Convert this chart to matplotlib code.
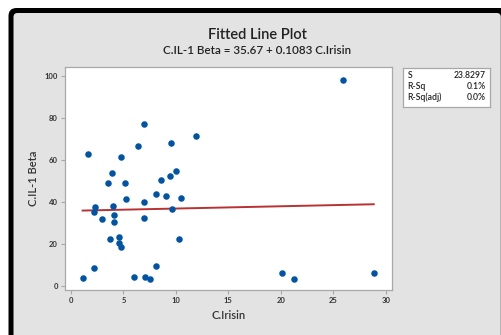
import matplotlib
matplotlib.use("Agg")
import matplotlib.pyplot as plt
from matplotlib.patches import FancyBboxPatch
import numpy as np

plt.rcParams['font.family'] = ['Lato', 'DejaVu Sans']

# observed values
irisin = [1.11, 1.65, 2.16, 2.16, 2.32, 3.0, 3.52, 3.69, 3.91, 4.0,
          4.1, 4.1, 4.58, 4.58, 4.8, 4.74, 5.15, 5.24, 5.98, 6.35,
          6.93, 6.93, 6.99, 7.08, 7.5, 8.07, 8.07, 8.6, 9.03, 9.44,
          9.5, 9.66, 9.98, 10.3, 10.46, 11.92, 25.96, 20.15, 21.23, 28.86]
il1_beta = [3.8, 62.6, 8.6, 34.9, 37.5, 31.8, 49.0, 22.2, 53.8, 38.1,
            33.8, 30.2, 23.3, 20.2, 18.6, 61.4, 48.8, 41.3, 4.3, 66.5,
            77.0, 32.2, 39.7, 4.1, 3.3, 43.7, 9.4, 50.2, 42.9, 52.2,
            68.1, 36.5, 54.6, 22.2, 41.9, 71.3, 98.1, 6.2, 3.3, 6.2]

intercept = 35.67
slope = 0.1083
stats_names = ['S', 'R-Sq', 'R-Sq(adj)']
stats_vals = ['23.8297', '0.1%', '0.0%']

W, H = 502, 335
fig = plt.figure(figsize=(W / 100, H / 100), dpi=100)
fig.patch.set_facecolor('white')


def panel(x0, top, x1, color, r):
    # filled rounded block, pixel edges measured from the top-left corner
    p = FancyBboxPatch((x0 / W, -0.2), (x1 - x0) / W, 1.2 - top / H,
                       boxstyle="round,pad=0,rounding_size=%g" % (r / W),
                       mutation_aspect=W / H,
                       transform=fig.transFigure, facecolor=color,
                       edgecolor='none', linewidth=0, zorder=-10)
    fig.patches.append(p)


# black frame, then the grey panel inside it
panel(8.5, 8.0, 540, 'black', 8)
panel(13.5, 13.0, 500.8, '#e3e3e3', 4)

ax = fig.add_axes([65 / W, 1 - 290 / H, (392 - 65) / W, (290 - 67) / H])
ax.set_facecolor('white')

x = np.array(irisin)
y = np.array(il1_beta)
ax.scatter(x, y, s=22, color='#0054a6', zorder=3, linewidths=0)
xl = np.array([x.min(), x.max()])
ax.plot(xl, intercept + slope * xl, color='#b83232', lw=1.4, zorder=2)

ax.set_xlim(-0.57, 30.6)
ax.set_ylim(-2.0, 104.1)
ax.set_xticks([0, 5, 10, 15, 20, 25, 30])
ax.set_yticks([0, 20, 40, 60, 80, 100])
for s in ax.spines.values():
    s.set_color('#a8a8a8')
    s.set_linewidth(0.9)
ax.tick_params(length=3, width=0.8, color='#a8a8a8', labelsize=5.5,
               labelcolor='#333333', pad=2)
for lab in ax.get_xticklabels() + ax.get_yticklabels():
    lab.set_fontweight('bold')

ax.set_xlabel('C.Irisin', fontsize=8, color='#333333', labelpad=4.5,
              fontweight='semibold')
ax.set_ylabel('C.IL-1 Beta', fontsize=8, color='#333333', labelpad=4,
              fontweight='semibold')

fig.text(257 / W, 1 - 35 / H, 'Fitted Line Plot', ha='center', va='center',
         fontsize=10.5, color='#222222', fontweight='semibold')
fig.text(257 / W, 1 - 50 / H, 'C.IL-1 Beta = 35.67 + 0.1083 C.Irisin',
         ha='center', va='center', fontsize=8.4, color='#222222',
         fontweight='semibold')

# summary box
box = fig.add_axes([403 / W, 1 - 107 / H, 87 / W, 39 / H])
box.set_xticks([])
box.set_yticks([])
for s in box.spines.values():
    s.set_color('#a8a8a8')
    s.set_linewidth(0.9)
for i, (n, v) in enumerate(zip(stats_names, stats_vals)):
    yy = 0.81 - i * 0.28
    box.text(0.05, yy, n, fontsize=6.2, va='center', ha='left',
             color='#222222', transform=box.transAxes, fontweight='semibold')
    box.text(0.95, yy, v, fontsize=6.2, va='center', ha='right',
             color='#222222', transform=box.transAxes, fontweight='semibold')

fig.savefig('out.png', dpi=100)
